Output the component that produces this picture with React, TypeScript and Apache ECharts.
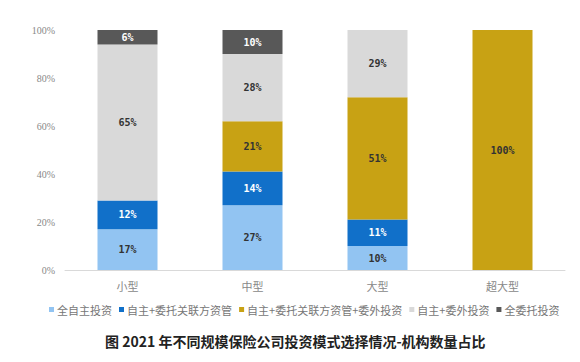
import React, { useEffect, useRef } from "react";
import * as echarts from "echarts";

const categories = ["小型", "中型", "大型", "超大型"];
const seriesNames = [
  "全自主投资",
  "自主+委托关联方资管",
  "自主+委托关联方资管+委外投资",
  "自主+委外投资",
  "全委托投资",
];
const fullSelf = [17, 27, 10, 0];
const selfRelated = [12, 14, 11, 0];
const selfRelatedOutsource = [0, 21, 51, 100];
const selfOutsource = [65, 28, 29, 0];
const fullEntrust = [6, 10, 0, 0];
const yTicks = [0, 20, 40, 60, 80, 100];

const colors = ["#92C4F2", "#1170C9", "#C8A214", "#D9D9D9", "#585858"];
const labelColors = ["#333", "#fff", "#333", "#333", "#fff"];

export default function App() {
  const ref = useRef<HTMLDivElement>(null);
  useEffect(() => {
    const chart = echarts.init(ref.current!, null, { renderer: "svg" });
    const data = [fullSelf, selfRelated, selfRelatedOutsource, selfOutsource, fullEntrust];
    chart.setOption({
      animation: false,
      title: {
        text: "图 2021 年不同规模保险公司投资模式选择情况-机构数量占比",
        left: 100,
        top: 329,
        textStyle: { fontSize: 14, fontWeight: "bold", color: "#222", fontFamily: "Noto Sans CJK SC" },
      },
      legend: {
        data: seriesNames,
        top: 299,
        left: 44,
        itemWidth: 5,
        itemHeight: 5,
        itemGap: 7,
        icon: "rect",
        textStyle: { fontSize: 11, color: "#777", fontFamily: "Noto Sans CJK SC", padding: [0, 0, 0, -2] },
      },
      grid: { left: 65, right: 15, top: 30, bottom: 92 },
      xAxis: {
        type: "category",
        data: categories,
        axisLine: { lineStyle: { color: "#D9D9D9" } },
        axisTick: { show: false },
        axisLabel: { color: "#888", fontSize: 11, margin: 10, fontFamily: "Noto Sans CJK SC" },
      },
      yAxis: {
        type: "value",
        min: 0,
        max: 100,
        interval: 20,
        splitLine: { show: false },
        axisLine: { show: false },
        axisTick: { show: false },
        axisLabel: {
          color: "#888",
          fontSize: 10,
          margin: 10,
          fontFamily: "Liberation Serif",
          formatter: (v: number) => (yTicks.includes(v) ? v + "%" : ""),
        },
      },
      series: seriesNames.map((name, i) => ({
        name,
        type: "bar",
        stack: "total",
        barWidth: 60,
        clip: true,
        itemStyle: { color: colors[i] },
        data: data[i].map((v) => (v === 0 ? null : v)),
        label: {
          show: true,
          position: "inside",
          formatter: (p: any) => p.value + "%",
          color: labelColors[i],
          fontSize: 10,
          fontWeight: "bold",
          fontFamily: "DejaVu Sans Mono",
        },
      })),
    });
    return () => chart.dispose();
  }, []);
  return <div ref={ref} style={{ width: 580, height: 362, margin: -8 }} />;
}
